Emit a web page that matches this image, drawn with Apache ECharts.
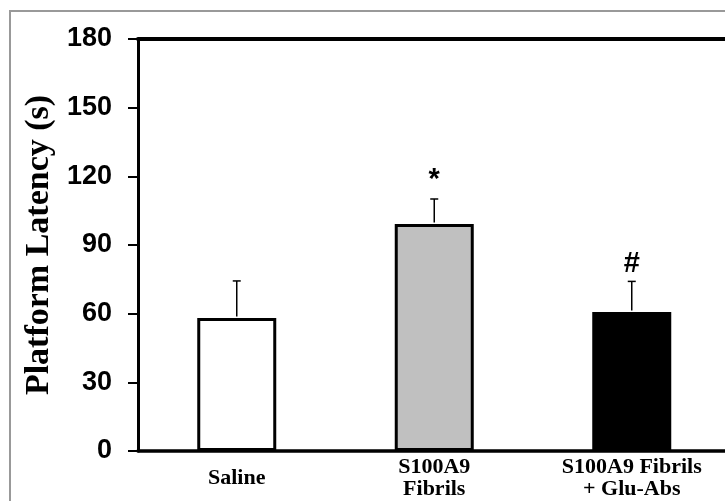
<!DOCTYPE html>
<html>
<head>
<meta charset="utf-8">
<script src="https://cdn.jsdelivr.net/npm/echarts@6/dist/echarts.min.js"></script>
<style>
html,body{margin:0;padding:0;background:#fff;}
#wrap{position:relative;width:725px;height:501px;overflow:hidden;}
#frame{position:absolute;left:9px;top:10px;width:800px;height:600px;border-left:2px solid #999;border-top:2px solid #999;}
#chart{position:absolute;left:0;top:0;width:780px;height:501px;}
</style>
</head>
<body>
<div id="wrap"><div id="frame"></div><div id="chart"></div></div>
<script>
const categories = ['Saline', 'S100A9\nFibrils', 'S100A9 Fibrils\n+ Glu-Abs'];
const means = [58.1, 99.2, 60.7];
const errors = [16.2, 10.9, 13.4];
const marks = ['', '*', '#'];
const barColors = ['#ffffff', '#c0c0c0', '#000000'];
const yTicks = {min: 0, max: 180, interval: 30};

const chart = echarts.init(document.getElementById('chart'), null, {renderer: 'canvas'});
const option = {
  animation: false,
  grid: {left: 138, top: 39, width: 592.5, bottom: 50, containLabel: false},
  xAxis: [{
    type: 'category',
    data: categories,
    position: 'bottom',
    axisLine: {lineStyle: {color: '#000', width: 3.5}},
    axisTick: {show: false},
    axisLabel: {
      interval: 0, margin: 27, verticalAlign: 'middle', lineHeight: 22,
      color: '#000', fontFamily: 'Liberation Serif', fontWeight: 'bold', fontSize: 22
    }
  }, {
    type: 'category',
    data: categories,
    position: 'top',
    axisLine: {lineStyle: {color: '#000', width: 4}},
    axisTick: {show: false},
    axisLabel: {show: false}
  }],
  yAxis: {
    type: 'value',
    min: yTicks.min, max: yTicks.max, interval: yTicks.interval,
    name: 'Platform Latency (s)',
    nameLocation: 'middle',
    nameGap: 77,
    nameTextStyle: {color: '#000', fontFamily: 'Liberation Serif', fontWeight: 'bold', fontSize: 34},
    axisLine: {show: true, lineStyle: {color: '#000', width: 3}},
    axisTick: {show: true, length: 10, lineStyle: {color: '#000', width: 2}},
    axisLabel: {margin: 26, color: '#000', fontFamily: 'Liberation Sans', fontWeight: 'bold', fontSize: 27},
    splitLine: {show: false}
  },
  series: [{
    type: 'bar',
    data: means.map((v, i) => ({value: v, itemStyle: {color: barColors[i]}})),
    barWidth: 79,
    itemStyle: {borderColor: '#000', borderWidth: 3},
    z: 2
  }, {
    type: 'custom',
    data: means.map((v, i) => [i, v, errors[i]]),
    z: 3,
    renderItem: function (params, api) {
      const base = api.coord([api.value(0), api.value(1)]);
      const top = api.coord([api.value(0), api.value(1) + api.value(2)]);
      const x = base[0];
      const children = [
        {type: 'line', shape: {x1: x, y1: base[1] - 1.5, x2: x, y2: top[1]}, style: {stroke: '#000', lineWidth: 1.5}},
        {type: 'line', shape: {x1: x - 4, y1: top[1], x2: x + 4, y2: top[1]}, style: {stroke: '#000', lineWidth: 1.5}}
      ];
      const m = marks[params.dataIndex];
      if (m) {
        children.push({type: 'text', style: {
          text: m, x: x, y: top[1] - (m === '*' ? 4 : 3),
          textAlign: 'center', textVerticalAlign: 'bottom',
          font: 'bold 29px "Liberation Sans"', fill: '#000'
        }});
      }
      return {type: 'group', children: children};
    }
  }]
};
chart.setOption(option);
</script>
</body>
</html>
